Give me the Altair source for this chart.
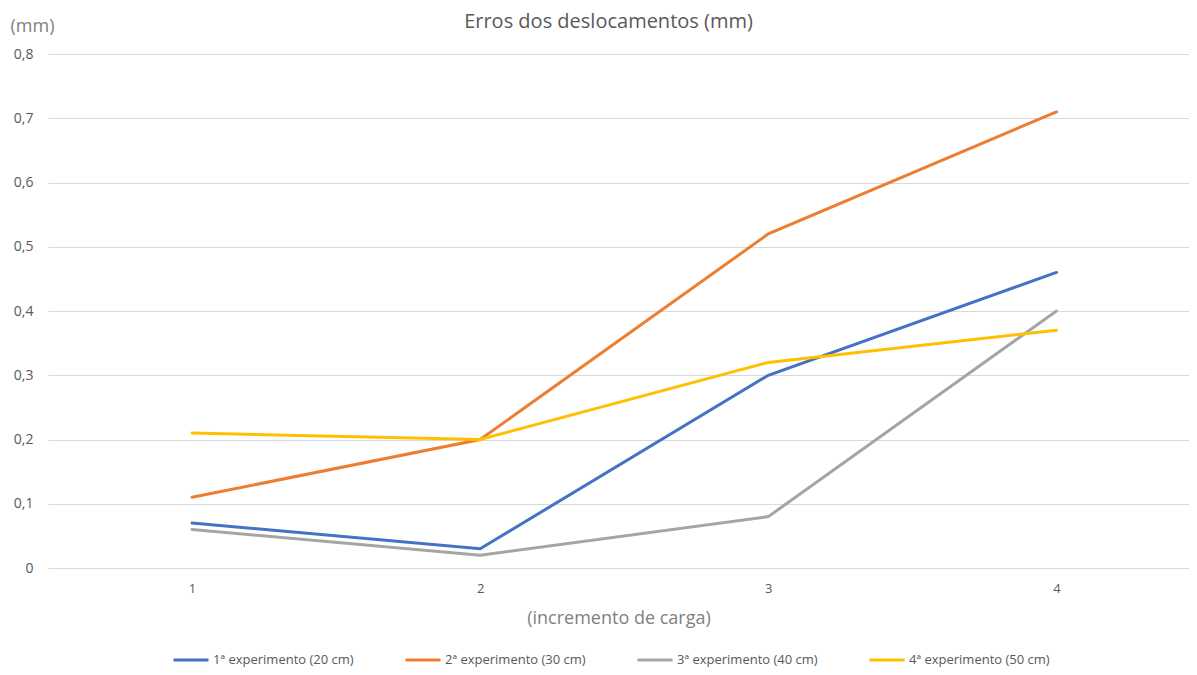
import altair as alt
import pandas as pd

increments = [1, 2, 3, 4]
series_names = [
    "1ª experimento (20 cm)",
    "2ª experimento (30 cm)",
    "3ª experimento (40 cm)",
    "4ª experimento (50 cm)",
]
exp1 = [0.07, 0.03, 0.30, 0.46]
exp2 = [0.11, 0.20, 0.52, 0.71]
exp3 = [0.06, 0.02, 0.08, 0.40]
exp4 = [0.21, 0.20, 0.32, 0.37]
colors = ["#4472C4", "#ED7D31", "#A5A5A5", "#FFC000"]

rows = []
for name, vals in zip(series_names, [exp1, exp2, exp3, exp4]):
    for inc, v in zip(increments, vals):
        rows.append({"inc": inc, "val": v, "serie": name})
df = pd.DataFrame(rows)

font = "Open Sans"

chart = alt.Chart(df).mark_line(strokeWidth=3, strokeCap="round").encode(
    x=alt.X("inc:Q",
            scale=alt.Scale(domain=[0.5, 4.46], nice=False, zero=False),
            axis=alt.Axis(title="(incremento de carga)", values=increments, format="d",
                          labelAngle=0, domain=False, ticks=False, grid=False,
                          labelPadding=14, labelFontSize=13, labelColor="#595959", labelFont=font,
                          titleFontSize=18, titleColor="#7f7f7f", titleFont=font, titleFontWeight="normal",
                          titlePadding=14)),
    y=alt.Y("val:Q", scale=alt.Scale(domain=[0, 0.8]),
            axis=alt.Axis(title="(mm)", values=[0, 0.1, 0.2, 0.3, 0.4, 0.5, 0.6, 0.7, 0.8],
                          labelExpr="datum.value == 0 ? '0' : replace(format(datum.value, '.1f'), '.', ',')",
                          domain=False, ticks=False, labelPadding=15, labelFontSize=14,
                          labelColor="#595959", labelFont=font,
                          gridColor="#d9d9d9", gridWidth=1,
                          titleAngle=0, titleX=-38, titleY=-23, titleAlign="left", titleBaseline="alphabetic",
                          titleFontSize=18, titleColor="#7f7f7f", titleFont=font, titleFontWeight="normal")),
    color=alt.Color("serie:N", sort=series_names,
                    scale=alt.Scale(domain=series_names, range=colors),
                    legend=alt.Legend(title=None, orient="none", legendX=124, legendY=587,
                                      direction="horizontal", columns=4, padding=0,
                                      symbolType="stroke", symbolSize=1225, symbolStrokeWidth=3,
                                      labelFontSize=13, labelColor="#595959", labelFont=font,
                                      columnPadding=45, labelOffset=3)),
).properties(
    width=1141,
    height=514,
    title=alt.TitleParams("Erros dos deslocamentos (mm)", fontSize=20, color="#595959", font=font,
                          fontWeight="normal", anchor="middle", frame="group", offset=0, dy=15, dx=-10),
    autosize=alt.AutoSizeParams(type="none"),
    padding={"left": 40, "top": 46, "right": 0, "bottom": 99},
).configure_view(stroke=None)

chart.save("out.html", embed_options={"renderer": "svg", "actions": False})
